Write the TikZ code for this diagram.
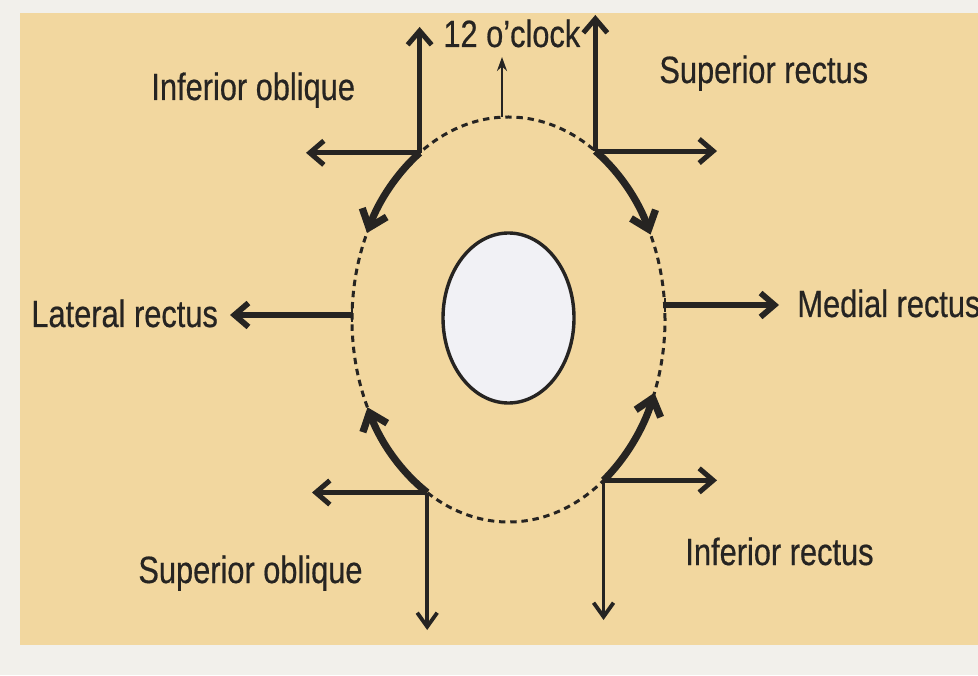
\documentclass[tikz,border=0pt]{standalone}
\usepackage{fontspec}
\setmainfont{Liberation Sans}[FakeStretch=0.81,FakeBold=0.5]
\usetikzlibrary{arrows.meta,calc,shapes.geometric}
\definecolor{paper}{RGB}{242,215,159}
\definecolor{margin}{RGB}{242,240,235}
\definecolor{ink}{RGB}{38,36,34}
\definecolor{pupil}{RGB}{241,241,245}
\begin{document}
\begin{tikzpicture}[x=0.5pt,y=0.5pt,
  lbl/.style={anchor=base west,inner sep=0pt,text=ink,font=\fontsize{19pt}{21pt}\selectfont},
  pull/.style={draw=ink,line width=2.5pt,-{Straight Barb[length=7pt,width=12pt]}},
  pullthin/.style={draw=ink,line width=1.9pt,-{Straight Barb[length=7pt,width=10pt]}},
  twist/.style={draw=ink,line width=3.6pt,-{Straight Barb[length=8pt,width=13pt]}},
  noonarrow/.style={draw=ink,line width=1.4pt,-{Stealth[length=7pt,width=5pt]}}]
\fill[margin] (0,0) rectangle (978,675);
\fill[paper] (20,30) rectangle (978,662);
\useasboundingbox (0,0) rectangle (978,675);

\coordinate (c) at (508.5,355.5);
\draw[ink,line width=1.5pt,dash pattern=on 3.2pt off 2.4pt] (c) ellipse[x radius=156.5,y radius=202.5];
\node[ellipse,draw=ink,fill=pupil,line width=1.7pt,minimum width=65.5pt,minimum height=85pt,inner sep=0pt] (eye) at (508.5,357) {};

% junctions on the globe outline
\coordinate (jTL) at ($(c)+(124.6:156.5 and 202.5)$);
\coordinate (jTR) at ($(c)+(56.3:156.5 and 202.5)$);
\coordinate (jBL) at ($(c)+(238.7:156.5 and 202.5)$);
\coordinate (jBR) at ($(c)+(-52.6:156.5 and 202.5)$);

% free ends
\coordinate (ioUp) at (jTL |- 0,648);
\coordinate (ioLeft) at (jTL -| 306,0);
\coordinate (srUp) at (jTR |- 0,660);
\coordinate (srRight) at (jTR -| 717,0);
\coordinate (soLeft) at (jBL -| 312,0);
\coordinate (soDown) at (jBL |- 0,45);
\coordinate (irRight) at (jBR -| 717,0);
\coordinate (irDown) at (jBR |- 0,55);
\coordinate (lrS) at (352,360);
\coordinate (lrT) at (230,360);
\coordinate (mrS) at (665,370);
\coordinate (mrT) at (779,370);
\coordinate (noonS) at (502,558);
\coordinate (noonT) at (502,618);

% straight pulls
\draw[pull] (jTL) -- (ioUp);
\draw[pull] (jTL) -- (ioLeft);
\draw[pull] (jTR) -- (srUp);
\draw[pull] (jTR) -- (srRight);
\draw[pull] (jBL) -- (soLeft);
\draw[pullthin] (jBL) -- (soDown);
\draw[pull] (jBR) -- (irRight);
\draw[pullthin] (jBR) -- (irDown);
\draw[pull,line width=2.9pt] (lrS) -- (lrT);
\draw[pull,line width=2.9pt] (mrS) -- (mrT);
\draw[ink,line width=1.4pt] ($(lrS)+(0,-7)$) -- ($(lrS)+(0,7)$);
\draw[ink,line width=1.4pt] ($(mrS)+(0,-7)$) -- ($(mrS)+(0,7)$);
\draw[noonarrow] (noonS) -- (noonT);

% torsional pulls along the globe
\draw[twist] (jTL) arc[start angle=124.6,end angle=154.7,x radius=156.5,y radius=202.5];
\draw[twist] (jTR) arc[start angle=56.3,end angle=24.8,x radius=156.5,y radius=202.5];
\draw[twist] (jBL) arc[start angle=238.7,end angle=205.7,x radius=156.5,y radius=202.5];
\draw[twist] (jBR) arc[start angle=-52.6,end angle=-21.2,x radius=156.5,y radius=202.5];

% labels
\node[lbl] (tNoon) at (443,628) {12 o’clock};
\node[lbl] (tIO) at (151,575) {Inferior oblique};
\node[lbl] (tSR) at (659,592) {Superior rectus};
\node[lbl] (tLR) at (31,348) {Lateral rectus};
\node[lbl] (tMR) at (797,358) {Medial rectus};
\node[lbl] (tSO) at (138,92) {Superior oblique};
\node[lbl] (tIR) at (685,110) {Inferior rectus};
\end{tikzpicture}
\end{document}
